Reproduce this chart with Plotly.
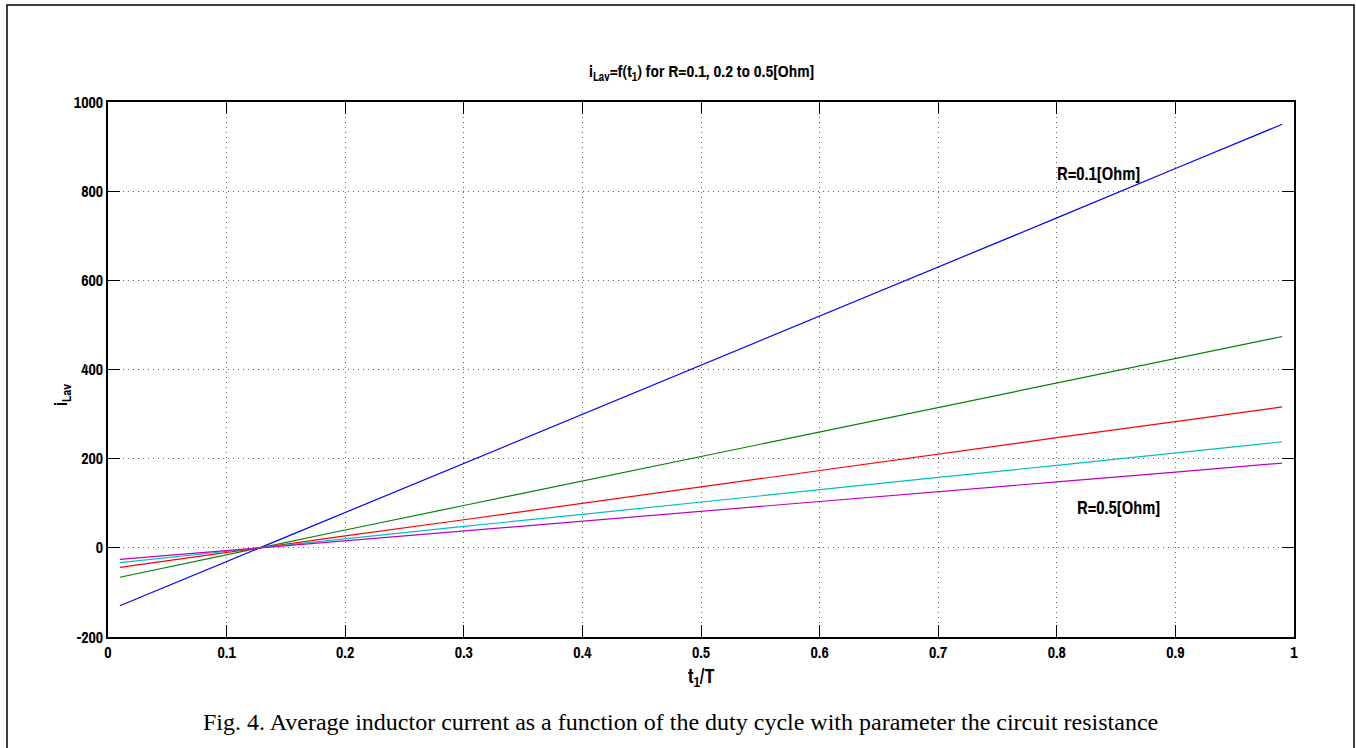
import plotly.graph_objects as go

t_ratio = [0.01, 0.1, 0.2, 0.3, 0.4, 0.5, 0.6, 0.7, 0.8, 0.9, 0.99]
i_R01 = [-130, -31, 79, 189, 299, 410, 520, 630, 740, 851, 950]
i_R02 = [-66, -15, 40, 95, 150, 205, 260, 315, 370, 425, 474]
i_R03 = [-44, -10, 27, 63, 100, 137, 173, 210, 247, 283, 316]
i_R04 = [-33, -7.5, 20, 48, 75, 103, 130, 158, 185, 213, 238]
i_R05 = [-26, -6, 16, 38, 60, 82, 104, 126, 148, 170, 190]

series = [
    ("R=0.1", i_R01, "rgb(0,0,255)"),
    ("R=0.2", i_R02, "rgb(0,128,0)"),
    ("R=0.3", i_R03, "rgb(255,0,0)"),
    ("R=0.4", i_R04, "rgb(0,191,191)"),
    ("R=0.5", i_R05, "rgb(191,0,191)"),
]

x_ticks = [0, 0.1, 0.2, 0.3, 0.4, 0.5, 0.6, 0.7, 0.8, 0.9, 1]
x_ticklabels = ["0", "0.1", "0.2", "0.3", "0.4", "0.5", "0.6", "0.7", "0.8", "0.9", "1"]
y_ticks = [-200, 0, 200, 400, 600, 800, 1000]

W, H = 1356, 748
L, R, T, B = 108, 62, 102, 111
pw, ph = W - L - R, H - T - B

def px(x):
    return (x - L) / pw

def py(y):
    return (H - B - y) / ph

fig = go.Figure()
for name, vals, col in series:
    fig.add_trace(go.Scatter(x=t_ratio, y=vals, mode="lines", name=name,
                             line=dict(color=col, width=1.2), showlegend=False))

narrow = "Archivo Narrow, DejaVu Sans Condensed, Liberation Sans, Arial"
tickfont = dict(family=narrow, size=16, color="black")

fig.update_layout(
    width=W, height=H,
    margin=dict(l=L, r=R, t=T, b=B),
    paper_bgcolor="white", plot_bgcolor="white",
    font=dict(family=narrow, color="black"),
    xaxis=dict(range=[0, 1], tickvals=x_ticks, ticktext=["<b>%s</b>" % s for s in x_ticklabels],
               showgrid=True, gridcolor="rgba(0,0,0,0.6)", griddash="1px,4px", gridwidth=1,
               zeroline=False, showline=True, linecolor="black", linewidth=1.5, mirror="ticks",
               ticks="inside", ticklen=12, tickcolor="black", tickfont=tickfont),
    yaxis=dict(range=[-200, 1000], tickvals=y_ticks, ticktext=["<b>%d</b>" % v for v in y_ticks],
               showgrid=True, gridcolor="rgba(0,0,0,0.6)", griddash="1px,4px", gridwidth=1,
               zeroline=False, showline=True, linecolor="black", linewidth=1.5, mirror="ticks",
               ticks="inside", ticklen=12, tickcolor="black", tickfont=tickfont),
)

annots = [
    dict(x=px(701), y=py(72), text="<b>i<sub>Lav</sub>=f(t<sub>1</sub>) for R=0.1, 0.2 to 0.5[Ohm]</b>", size=17, family=narrow, angle=0),
    dict(x=px(61), y=py(395), text="<b>i<sub>Lav</sub></b>", size=18, family=narrow, angle=-90),
    dict(x=px(701), y=py(676), text="<b>t<sub>1</sub>/T</b>", size=20, family=narrow, angle=0),
    dict(x=px(1098), y=py(173), text="<b>R=0.1[Ohm]</b>", size=18, family=narrow, angle=0),
    dict(x=px(1118), y=py(507), text="<b>R=0.5[Ohm]</b>", size=18, family=narrow, angle=0),
    dict(x=px(680), y=py(722), text="Fig. 4. Average inductor current as a function of the duty cycle with parameter the circuit resistance",
         size=24, family="Liberation Serif, Times New Roman, serif", angle=0),
]
for a in annots:
    fig.add_annotation(x=a["x"], y=a["y"], xref="paper", yref="paper", text=a["text"],
                       showarrow=False, textangle=a["angle"], xanchor="center", yanchor="middle",
                       font=dict(size=a["size"], family=a["family"], color="black"))

fig.add_shape(type="rect", xref="paper", yref="paper",
              x0=px(7), x1=px(1354), y0=py(5), y1=py(760),
              line=dict(color="black", width=1.5), fillcolor="rgba(0,0,0,0)", layer="below")

fig.write_html("out.html", config={"displayModeBar": False},
               post_script="document.body.style.margin='0';document.body.style.overflow='hidden';")
